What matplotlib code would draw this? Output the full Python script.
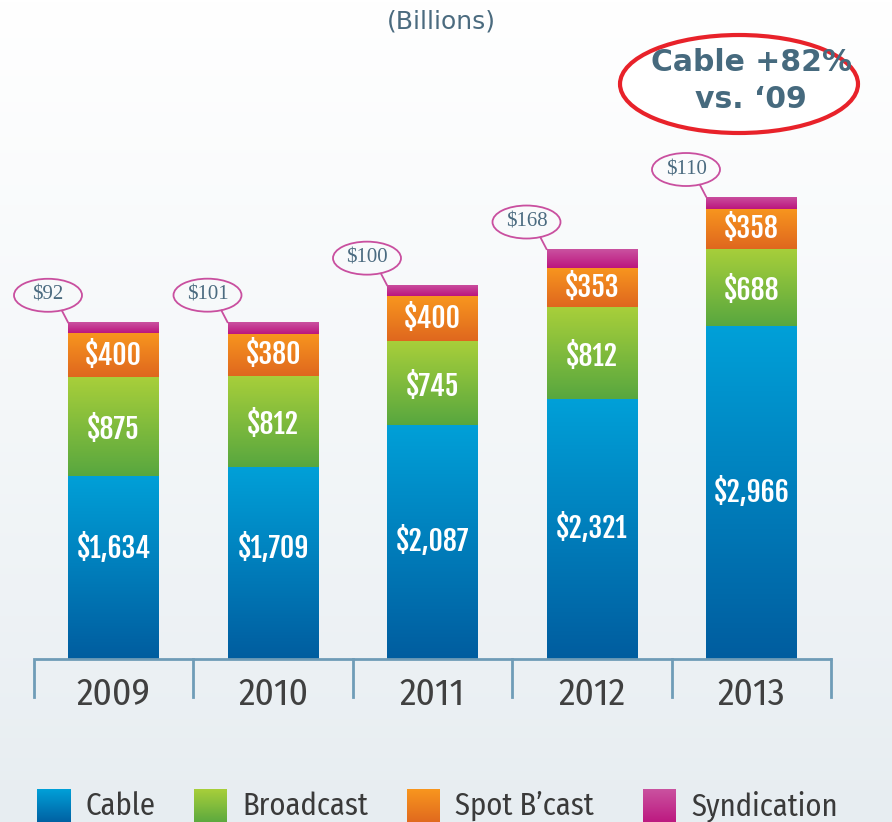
import numpy as np
import matplotlib
matplotlib.use("Agg")
import matplotlib.pyplot as plt
from matplotlib.patches import Ellipse, Rectangle
from matplotlib.colors import LinearSegmentedColormap

# ---------------- data ----------------
years = ["2009", "2010", "2011", "2012", "2013"]
cable = [1634, 1709, 2087, 2321, 2966]
broadcast = [875, 812, 745, 812, 688]
spot = [400, 380, 400, 353, 358]
syndication = [92, 101, 100, 168, 110]
series_names = ["Cable", "Broadcast", "Spot B\u2019cast", "Syndication"]
callout_text = "Cable +82%\nvs. \u201809"
subtitle = "(Billions)"

# gradient colours (top, bottom)
grads = [("#00a0d8", "#005d9f"),
         ("#a8cf3a", "#58a73f"),
         ("#f8961e", "#df671f"),
         ("#ca52a0", "#bc167e")]

BAR_FONT = ["Fjalla One", "Oswald", "Archivo Narrow", "DejaVu Sans"]
NARROW = ["Fira Sans Condensed", "Archivo Narrow", "DejaVu Sans"]
SERIF = ["Liberation Serif", "DejaVu Serif"]

W, H = 892, 822
fig = plt.figure(figsize=(W / 100, H / 100), dpi=100)
ax = fig.add_axes([0, 0, 1, 1])

# pixel <-> data mapping (layout only)
X0_PX, DX_PX = 113.5, 159.5          # centre of first bar, spacing
BASE_PX, UNIT_PX = 659.0, 0.1122     # baseline pixel row, px per unit
xlim = (-X0_PX / DX_PX, (W - X0_PX) / DX_PX)
ylim = (-(H - BASE_PX) / UNIT_PX, BASE_PX / UNIT_PX)
ax.set_xlim(*xlim)
ax.set_ylim(*ylim)
ax.axis("off")
px_x = 1.0 / DX_PX       # data per px horizontally
px_y = 1.0 / UNIT_PX     # data per px vertically

# background gradient (white at top -> light blue-grey at bottom)
bg = LinearSegmentedColormap.from_list("bg", ["#ffffff", "#f4f7f9", "#e7edf1"])
ax.imshow(np.linspace(0, 1, 256).reshape(-1, 1), cmap=bg, aspect="auto",
          extent=(xlim[0], xlim[1], ylim[0], ylim[1]), zorder=0, origin="upper")

def grad_fill(patch, top, bottom, z=2):
    x0, y0 = patch.get_x(), patch.get_y()
    w, h = patch.get_width(), patch.get_height()
    cm = LinearSegmentedColormap.from_list("g", [bottom, top])
    im = ax.imshow(np.linspace(0, 1, 128).reshape(-1, 1), cmap=cm, aspect="auto",
                   origin="lower", extent=(x0, x0 + w, y0, y0 + h), zorder=z)
    im.set_clip_path(patch)

x = np.arange(len(years))
bw = 91 * px_x
values = [cable, broadcast, spot, syndication]
bottom = np.zeros(len(years))
for si, vals in enumerate(values):
    vals = np.array(vals, dtype=float)
    bars = ax.bar(x, vals, bw, bottom=bottom, color=grads[si][0], linewidth=0, zorder=1)
    for b in bars:
        grad_fill(b, *grads[si])
    if si < 3:
        for xi, v, b0 in zip(x, vals, bottom):
            yc = b0 + v / 2
            if si == 0:
                yc = max(yc, (BASE_PX - 548) * px_y)
            elif si == 1:
                yc -= 3 * px_y
            ax.text(xi, yc, f"${int(v):,}", ha="center", va="center", zorder=5,
                    family=BAR_FONT, color="white", fontsize=20)
    bottom = bottom + vals

# callout bubbles for syndication
tops = bottom
mag = "#c94f9f"
for xi, v, t in zip(x, syndication, tops):
    left = xi - bw / 2
    cx, cy = left - 20 * px_x, t + 27 * px_y
    ax.add_patch(Ellipse((cx, cy), 68 * px_x, 33 * px_y, facecolor="none",
                         edgecolor=mag, linewidth=1.3, zorder=6))
    ax.plot([cx + 14 * px_x, left], [cy - 15.5 * px_y, t], color=mag,
            linewidth=1.3, zorder=6)
    ax.text(cx, cy, f"${v}", ha="center", va="center", color="#4b6b80",
            fontsize=15, family=SERIF, zorder=7)

# bracket axis
axc = "#6f9cb7"
ax.plot([-0.492, 4.505], [0, 0], color=axc, linewidth=2, zorder=3, solid_capstyle="butt")
for k in range(len(years) + 1):
    xb = k - 0.5
    ax.plot([xb, xb], [0, -38 * px_y], color=axc, linewidth=2, zorder=3)
for xi, yr in zip(x, years):
    ax.text(xi, -36 * px_y, yr, ha="center", va="center", color="#404040",
            fontsize=27, family=NARROW, weight="normal")

# subtitle
ax.text((441 - X0_PX) * px_x, (BASE_PX - 22) * px_y, subtitle, ha="center", va="center",
        color="#4b6b7f", fontsize=18)

# red callout ellipse
ecx, ecy = (739 - X0_PX) * px_x, (BASE_PX - 84) * px_y
ax.add_patch(Ellipse((ecx, ecy), 238 * px_x, 98 * px_y, facecolor="white",
                     edgecolor="#e8222a", linewidth=3, zorder=6))
ax.text((751 - X0_PX) * px_x, (BASE_PX - 81) * px_y, callout_text, ha="center", va="center",
        color="#466a7e", fontsize=21.5, weight="bold", linespacing=1.35, zorder=7)

# legend
leg_x = [37, 194, 407, 643]
for (px0, name, (ct, cbm)) in zip(leg_x, series_names, grads):
    r = Rectangle(((px0 - X0_PX) * px_x, -(822 - BASE_PX) * px_y - 2 * px_y), 33 * px_x, 35 * px_y,
                  linewidth=0, facecolor=ct, zorder=2)
    ax.add_patch(r)
    grad_fill(r, ct, cbm, z=3)
    ax.text((px0 + 48 - X0_PX) * px_x, -(806 - BASE_PX) * px_y, name, ha="left", va="center",
            color="#3a3a3a", fontsize=22, family=NARROW, weight="normal")

fig.savefig("out.png", dpi=100)
